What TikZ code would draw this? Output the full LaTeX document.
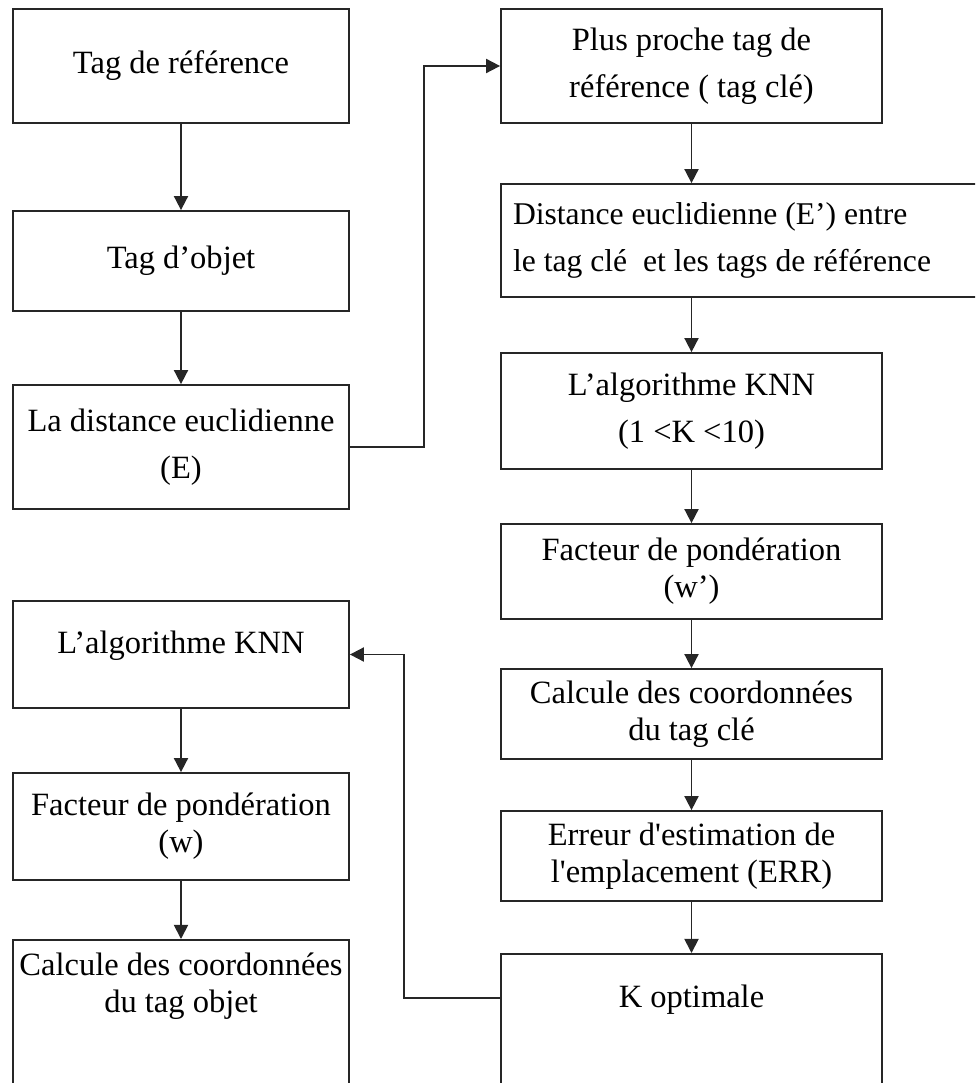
\documentclass[tikz,border=0pt]{standalone}
\usepackage{fontspec}
\setmainfont{Liberation Serif}
\usetikzlibrary{arrows.meta,positioning,calc}

\begin{document}
\begin{tikzpicture}[
  box/.style={draw=black!85, line width=1pt, align=center, inner sep=0pt,
    minimum width=6.72cm, font=\fontsize{18.5}{21}\selectfont},
  wbox/.style={box, minimum width=7.62cm},
  spaced/.style={font=\fontsize{18.5}{27}\selectfont},
  arrow/.style={-{Triangle[length=8pt,width=8pt]}, line width=1pt, black!85}
]
\useasboundingbox (0,0) rectangle (19.5,-21.66);
\clip (0,0) rectangle (19.5,-21.66);

% left column
\node[box, minimum height=2.28cm] (ref) at (3.62,-1.32) {Tag de référence};
\node[box, minimum height=2.0cm] (obj) at (3.62,-5.22) {Tag d’objet};
\node[box, spaced, minimum height=2.48cm] (dist) at (3.62,-8.94) {La distance euclidienne\\(E)};
\node[box, minimum height=2.14cm, text depth=0.5cm] (knn) at (3.62,-13.09) {L’algorithme KNN};
\node[box, minimum height=2.14cm] (poids) at (3.62,-16.53) {Facteur de pondération\\(w)};
\node[box, anchor=north, text height=1.46cm, text depth=3cm] (coord) at (3.62,-18.78)
  {Calcule des coordonnées\\du tag objet};

% right column
\node[wbox, spaced, minimum height=2.28cm] (cle) at (13.83,-1.32) {Plus proche tag de\\référence ( tag clé)};
\node[box, font=\fontsize{18}{27}\selectfont, align=flush left, minimum height=2.26cm,
  text width=9.3cm, inner xsep=0.24cm] (distcle) at (14.91,-4.81)
  {Distance euclidienne (E’) entre\\le tag clé~ et les tags de référence};
\node[wbox, spaced, minimum height=2.32cm] (knnk) at (13.83,-8.22) {L’algorithme KNN\\(1 <K <10)};
\node[wbox, minimum height=1.9cm] (poidsk) at (13.83,-11.43) {Facteur de pondération\\(w’)};
\node[wbox, minimum height=1.8cm] (coordk) at (13.83,-14.28) {Calcule des coordonnées\\du tag clé};
\node[wbox, minimum height=1.8cm] (err) at (13.83,-17.12)
  {Erreur d\textquotesingle estimation de\\l\textquotesingle emplacement (ERR)};
\node[wbox, anchor=north, text height=1.08cm, text depth=3cm] (kopt) at (13.83,-19.06) {K optimale};

\draw[arrow] (ref) -- (obj);
\draw[arrow] (obj) -- (dist);
\draw[arrow] (knn) -- (poids);
\draw[arrow] (poids) -- (coord);

\draw[arrow] (cle.south) -- (cle.south |- distcle.north);
\draw[arrow] (distcle.south -| knnk) -- (knnk.north);
\draw[arrow] (knnk) -- (poidsk);
\draw[arrow] (poidsk) -- (coordk);
\draw[arrow] (coordk) -- (err);
\draw[arrow] (err) -- (kopt);

\draw[arrow] (dist.east) -- ++(1.48,0) |- (cle.west);
\draw[arrow] ([yshift=-0.9cm]kopt.north west) -- ++(-1.92,0) |- (knn.east);
\end{tikzpicture}
\end{document}
